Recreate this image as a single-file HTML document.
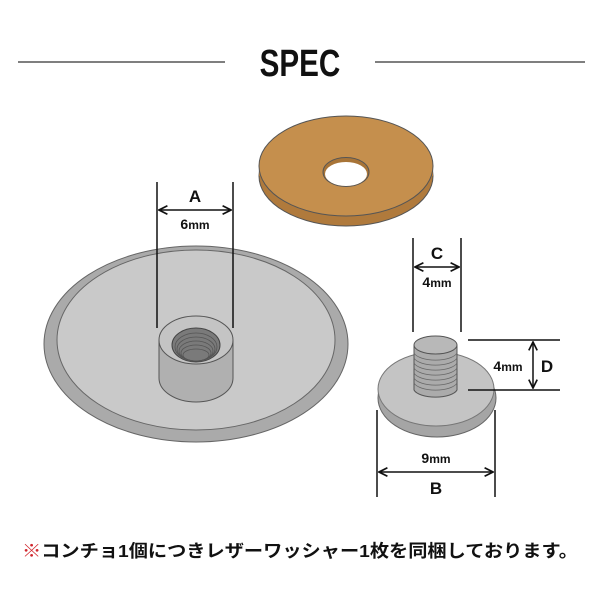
<!DOCTYPE html>
<html><head><meta charset="utf-8"><style>
body{margin:0;background:#fff;}
svg{display:block;}
text{font-family:"Liberation Sans","Noto Sans CJK JP",sans-serif;font-weight:bold;fill:#111;}
</style></head><body>
<svg width="600" height="600" viewBox="0 0 600 600" xmlns="http://www.w3.org/2000/svg">
<defs>
<marker id="ar" viewBox="0 0 10 10" refX="9" refY="5" markerWidth="7" markerHeight="7" orient="auto-start-reverse"><path d="M1 1 L9 5 L1 9" fill="none" stroke="#111" stroke-width="1.6"/></marker>
</defs>
<line x1="18" y1="62" x2="225" y2="62" stroke="#333" stroke-width="1.2"/>
<line x1="375" y1="62" x2="585" y2="62" stroke="#333" stroke-width="1.2"/>
<text x="300" y="76" text-anchor="middle" font-size="38" transform="translate(300 0) scale(0.78 1) translate(-300 0)">SPEC</text>

<!-- washer -->
<ellipse cx="346" cy="176" rx="87" ry="50" fill="#b07a3c" stroke="#555" stroke-width="1"/>
<rect x="259" y="166" width="174" height="10" fill="#b07a3c"/>
<ellipse cx="346" cy="166" rx="87" ry="50" fill="#c58f4d" stroke="#555" stroke-width="1"/>
<ellipse cx="346" cy="172" rx="23" ry="14.5" fill="#a87437" stroke="#555" stroke-width="1"/>
<ellipse cx="346" cy="174" rx="21" ry="12" fill="#fff"/>

<!-- big disc -->
<ellipse cx="196" cy="344" rx="152" ry="98" fill="#aaaaaa" stroke="#666" stroke-width="1"/>
<ellipse cx="196" cy="340" rx="139" ry="90" fill="#c9c9c9" stroke="#666" stroke-width="1"/>
<!-- boss -->
<path d="M159 340 L159 378 A37 24 0 0 0 233 378 L233 340 Z" fill="#b0b0b0" stroke="#555" stroke-width="1"/>
<ellipse cx="196" cy="340" rx="37" ry="24" fill="#c4c4c4" stroke="#555" stroke-width="1"/>
<ellipse cx="196" cy="345" rx="24" ry="17" fill="#7a7a7a" stroke="#444"/>
<g fill="none" stroke="#555" stroke-width="0.8">
<ellipse cx="196" cy="347" rx="21" ry="14"/><ellipse cx="196" cy="349" rx="19" ry="12"/><ellipse cx="196" cy="351" rx="17" ry="10"/><ellipse cx="196" cy="353" rx="15" ry="8"/><ellipse cx="196" cy="355" rx="13" ry="6"/></g>

<!-- small screw -->
<ellipse cx="437" cy="398" rx="59" ry="39" fill="#a5a5a5" stroke="#666"/>
<ellipse cx="436" cy="389" rx="58" ry="37" fill="#c4c4c4" stroke="#777"/>
<path d="M414 345 L414 390 A22 9 0 0 0 457 390 L457 345 Z" fill="#ababab" stroke="#555"/>
<g fill="none" stroke="#666" stroke-width="0.8">
<path d="M414 353 A22 9 0 0 0 457 353"/><path d="M414 358 A22 9 0 0 0 457 358"/><path d="M414 363 A22 9 0 0 0 457 363"/><path d="M414 368 A22 9 0 0 0 457 368"/><path d="M414 373 A22 9 0 0 0 457 373"/><path d="M414 378 A22 9 0 0 0 457 378"/><path d="M414 383 A22 9 0 0 0 457 383"/></g>
<ellipse cx="435.5" cy="345" rx="21.5" ry="9" fill="#b8b8b8" stroke="#555"/>

<!-- dimensions -->
<g stroke="#111" stroke-width="1.5" fill="none">
<line x1="157" y1="182" x2="157" y2="328"/><line x1="233" y1="182" x2="233" y2="328"/>
<line x1="159" y1="210" x2="231" y2="210" marker-start="url(#ar)" marker-end="url(#ar)"/>
<line x1="413" y1="238" x2="413" y2="332"/><line x1="461" y1="238" x2="461" y2="332"/>
<line x1="415" y1="267" x2="459" y2="267" marker-start="url(#ar)" marker-end="url(#ar)"/>
<line x1="468" y1="340" x2="560" y2="340"/><line x1="468" y1="390" x2="560" y2="390"/>
<line x1="533" y1="342" x2="533" y2="388" marker-start="url(#ar)" marker-end="url(#ar)"/>
<line x1="377" y1="410" x2="377" y2="497"/><line x1="495" y1="410" x2="495" y2="497"/>
<line x1="379" y1="472" x2="493" y2="472" marker-start="url(#ar)" marker-end="url(#ar)"/>
</g>
<text x="195" y="202" font-size="17" text-anchor="middle">A</text>
<text x="195" y="229" font-size="14" text-anchor="middle">6<tspan font-size="12">mm</tspan></text>
<text x="437" y="259" font-size="17" text-anchor="middle">C</text>
<text x="437" y="287" font-size="14" text-anchor="middle">4<tspan font-size="12">mm</tspan></text>
<text x="508" y="371" font-size="14" text-anchor="middle">4<tspan font-size="12">mm</tspan></text>
<text x="547" y="372" font-size="17" text-anchor="middle">D</text>
<text x="436" y="463" font-size="14" text-anchor="middle">9<tspan font-size="12">mm</tspan></text>
<text x="436" y="494" font-size="17" text-anchor="middle">B</text>

<text x="22" y="557" font-size="17.5" textLength="556" lengthAdjust="spacingAndGlyphs"><tspan fill="#d0262d">※</tspan>コンチョ1個につきレザーワッシャー1枚を同梱しております。</text>
</svg>
</body></html>
